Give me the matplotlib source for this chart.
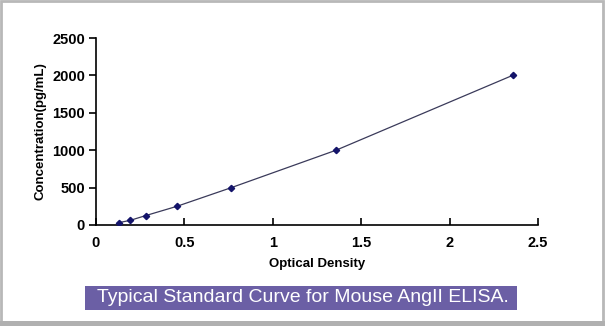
import matplotlib
matplotlib.use("Agg")
import matplotlib.pyplot as plt
from matplotlib.patches import Rectangle

# Standard curve points
od = [0.129, 0.194, 0.280, 0.458, 0.766, 1.358, 2.356]
conc = [31.25, 62.5, 125, 250, 500, 1000, 2000]

x_ticks = [0, 0.5, 1, 1.5, 2, 2.5]
x_labels = ["0", "0.5", "1", "1.5", "2", "2.5"]
y_ticks = [0, 500, 1000, 1500, 2000, 2500]

plt.rcParams['font.family'] = ['Liberation Sans', 'DejaVu Sans']

fig = plt.figure(figsize=(6.05, 3.26), dpi=100)
ax = fig.add_axes([96 / 605, 1 - 225 / 326, 442 / 605, 187 / 326])

ax.plot(od, conc, color="#3a3a5a", lw=0.9, zorder=2)
ax.plot(od, conc, ls="none", marker="D", ms=3.2, color="#14146a", zorder=3)

ax.set_xlim(0, 2.5)
ax.set_ylim(0, 2500)
ax.set_xticks(x_ticks)
ax.set_xticklabels(x_labels)
ax.set_yticks(y_ticks)
ax.spines["top"].set_visible(False)
ax.spines["right"].set_visible(False)
for s in ("left", "bottom"):
    ax.spines[s].set_linewidth(1.2)
ax.tick_params(axis="x", direction="in", length=5, width=1.2, pad=8)
ax.tick_params(axis="y", direction="out", length=5, width=1.2, pad=3)
for lab in ax.get_xticklabels() + ax.get_yticklabels():
    lab.set_fontweight("bold")
    lab.set_fontsize(10.5)

ax.set_xlabel("Optical Density", fontsize=9.5, fontweight="bold", labelpad=6)
ax.set_ylabel("Concentration(pg/mL)", fontsize=9.5, fontweight="bold", labelpad=4)

# caption box
fig.patches.append(Rectangle((85 / 605, 1 - 310 / 326), 432 / 605, 24 / 326,
                             transform=fig.transFigure, facecolor="#6b5fa5",
                             edgecolor="none"))
fig.text(97 / 605, 1 - 298 / 326, "Typical Standard Curve for Mouse AngII ELISA.",
         color="white", fontsize=14, va="center", ha="left")

# outer gray frame
fig.patches.append(Rectangle((0.002, 0.012), 0.994, 0.984, transform=fig.transFigure,
                             facecolor="none", edgecolor="#b8b8b8", lw=2))
fig.patches.append(Rectangle((0, 0), 1, 5 / 326, transform=fig.transFigure,
                             facecolor="#b0b0b0", edgecolor="none"))

fig.savefig("out.png", dpi=100)
